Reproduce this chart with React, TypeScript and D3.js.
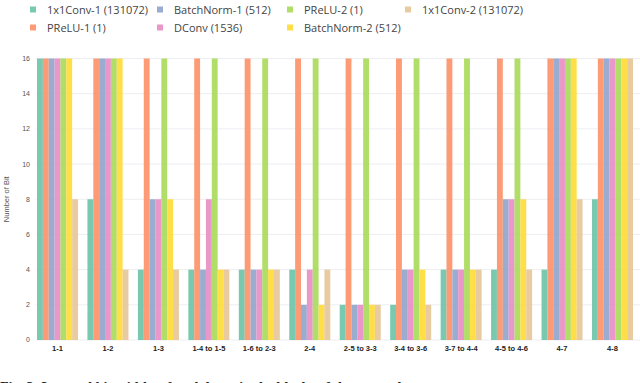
import React from "react";
import * as d3 from "d3";

const categories = ["1-1", "1-2", "1-3", "1-4 to 1-5", "1-6 to 2-3", "2-4", "2-5 to 3-3", "3-4 to 3-6", "3-7 to 4-4", "4-5 to 4-6", "4-7", "4-8"];
const seriesNames = ["1x1Conv-1 (131072)", "PReLU-1 (1)", "BatchNorm-1 (512)", "DConv (1536)", "PReLU-2 (1)", "BatchNorm-2 (512)", "1x1Conv-2 (131072)"];
const conv1 = [16, 8, 4, 4, 4, 4, 2, 2, 4, 4, 4, 8];
const prelu1 = [16, 16, 16, 16, 16, 16, 16, 16, 16, 16, 16, 16];
const bn1 = [16, 16, 8, 4, 4, 2, 2, 4, 4, 8, 16, 16];
const dconv = [16, 16, 8, 8, 4, 4, 2, 4, 4, 8, 16, 16];
const prelu2 = [16, 16, 16, 16, 16, 16, 16, 16, 16, 16, 16, 16];
const bn2 = [16, 16, 8, 4, 4, 2, 2, 4, 4, 8, 16, 16];
const conv2 = [8, 4, 4, 4, 4, 4, 2, 2, 4, 4, 8, 16];
const yTicks = [0, 2, 4, 6, 8, 10, 12, 14, 16];
const colors = ["#66c2a5", "#fc8d62", "#8da0cb", "#e78ac3", "#a6d854", "#ffd92f", "#e5c494"];

const seriesValues = [conv1, prelu1, bn1, dconv, prelu2, bn2, conv2];

export default function App() {
  const W = 640, H = 383;
  const x = d3.scaleBand<string>().domain(categories).range([37, 633]).paddingInner(0.187).paddingOuter(0);
  const xi = d3.scaleBand<number>().domain(d3.range(seriesNames.length)).range([0, x.bandwidth()]);
  const y = d3.scaleLinear().domain([0, 16]).range([340, 58.5]);
  const legendCols = [30, 157, 287, 405];
  const legendRows = [10, 28];

  return (
    <svg width={W} height={H} style={{ position: "absolute", left: 0, top: 0, background: "#fff" }}>
      {yTicks.map((t) => (
        <g key={t}>
          <line x1={36} x2={640} y1={y(t)} y2={y(t)} stroke="#eceef3" strokeWidth={1} />
          <text x={30} y={y(t)} dy="0.35em" textAnchor="end" fontSize={7} fill="#555" fontFamily="Liberation Sans, Arial, sans-serif">{t}</text>
        </g>
      ))}
      <text transform={`translate(6,${y(8)}) rotate(-90)`} textAnchor="middle" dy="0.35em" fontSize={7.5} fill="#555" fontFamily="Liberation Sans, Arial, sans-serif">Number of Bit</text>
      {categories.map((c, ci) => (
        <g key={c} transform={`translate(${x(c)},0)`}>
          {seriesValues.map((vals, si) => (
            <rect key={si} x={xi(si)} y={y(vals[ci])} width={xi.bandwidth()} height={y(0) - y(vals[ci])} fill={colors[si]} fillOpacity={0.88} />
          ))}
          <text x={x.bandwidth() / 2} y={348} dy="0.35em" textAnchor="middle" fontSize={7.5} fontWeight="bold" fill="#222" fontFamily="Liberation Sans, Arial, sans-serif">{c}</text>
        </g>
      ))}
      {seriesNames.map((name, si) => {
        const col = Math.floor(si / 2);
        const row = si % 2;
        const lx = legendCols[col];
        const ly = legendRows[row];
        return (
          <g key={si}>
            <rect x={lx} y={ly - 3.5} width={6} height={6} fill={colors[si]} fillOpacity={0.88} />
            <text x={lx + 17} y={ly} dy="0.35em" fontSize={11} fill="#444" fontFamily="Open Sans, sans-serif">{name}</text>
          </g>
        );
      })}
      <text x={0} y={392} fontSize={14} fontWeight="bold" fill="#222" fontFamily="Liberation Serif, serif">Fig. 3: Learned bit-widths of each layer in the blocks of the network.</text>
    </svg>
  );
}
